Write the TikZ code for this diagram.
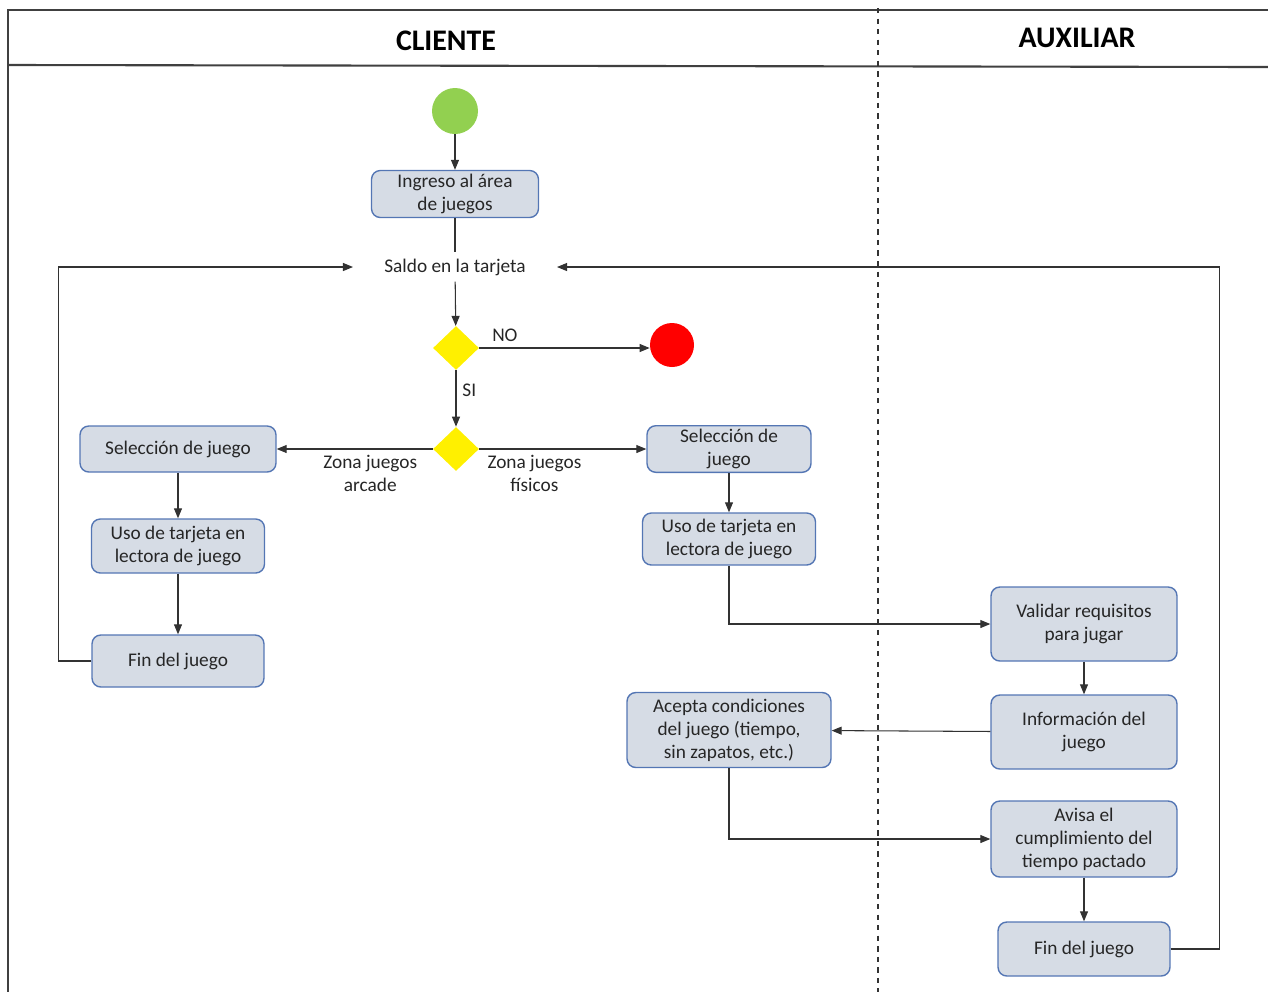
\documentclass[tikz,border=0pt]{standalone}
\usepackage{fontspec}
\setmainfont{Carlito}
\usepackage{tikz}
\usetikzlibrary{shapes.geometric, arrows.meta, positioning, calc}
\definecolor{boxfill}{RGB}{214,220,229}
\definecolor{boxline}{RGB}{84,118,180}
\definecolor{txtgray}{RGB}{38,38,38}
\definecolor{linegray}{RGB}{50,50,50}
\definecolor{startgreen}{RGB}{146,208,80}
\definecolor{stopred}{RGB}{255,0,0}
\definecolor{decyellow}{RGB}{255,240,0}

\begin{document}
\begin{tikzpicture}[
				x=0.02cm, y=-0.02cm,
				every node/.style={font=\fontsize{11}{13}\selectfont, text=txtgray},
				act/.style={rectangle, rounded corners=5pt, draw=boxline, fill=boxfill, thick,
					align=center, inner sep=2pt},
				dec/.style={diamond, fill=decyellow, minimum width=0.92cm, minimum height=0.88cm, inner sep=0pt},
				startnode/.style={circle, fill=startgreen, minimum size=0.92cm, inner sep=0pt},
				stopnode/.style={circle, fill=stopred, minimum size=0.88cm, inner sep=0pt},
				arrow/.style={-{Triangle[length=2mm, width=1.6mm]}, semithick, color=linegray},
				link/.style={semithick, color=linegray},
				lane/.style={line width=1.2pt, color=black!75},
				elabel/.style={align=center},
				header/.style={font=\fontsize{17}{19}\selectfont\bfseries, text=black}
				]
				\useasboundingbox (0,0) rectangle (1268,992);
				% lanes
				\draw[lane] (1268,10) -- (8,10) -- (8,992);
				\draw[lane] (8,65) -- (1268,67);
				\draw[semithick, dashed, black!80] (878,8) -- (878,992);
				\node[header] (cli) at (446,41) {CLIENTE};
				\node[header] (aux) at (1077,38) {AUXILIAR};

				\node[startnode] (start) at (455,111) {};
				\node[act, minimum width=3.34cm, minimum height=0.94cm] (ingreso) at (455,194) {Ingreso al área\\de juegos};
				\node[inner xsep=0.62cm, inner ysep=0.12cm] (saldo) at (455,267) {Saldo en la tarjeta};
				\node[dec] (d1) at (456,348) {};
				\node[stopnode] (stop) at (672,345) {};
				\node[dec] (d2) at (456,449) {};

				\node[act, minimum width=3.92cm, minimum height=0.92cm] (selA) at (178,449) {Selección de juego};
				\node[act, minimum width=3.46cm, minimum height=1.08cm] (usoA) at (178,546) {Uso de tarjeta en\\lectora de juego};
				\node[act, minimum width=3.44cm, minimum height=1.04cm] (finA) at (178,661) {Fin del juego};

				\node[act, minimum width=3.28cm, minimum height=0.92cm] (selF) at (729,449) {Selección de\\juego};
				\node[act, minimum width=3.46cm, minimum height=1.04cm] (usoF) at (729,539) {Uso de tarjeta en\\lectora de juego};
				\node[act, minimum width=4.08cm, minimum height=1.5cm] (acepta) at (729,730) {Acepta condiciones\\del juego (tiempo,\\sin zapatos, etc.)};

				\node[act, minimum width=3.72cm, minimum height=1.48cm] (valid) at (1084,624) {Validar requisitos\\para jugar};
				\node[act, minimum width=3.72cm, minimum height=1.48cm] (info) at (1084,732) {Información del\\juego};
				\node[act, minimum width=3.72cm, minimum height=1.52cm] (avisa) at (1084,839) {Avisa el\\cumplimiento del\\tiempo pactado};
				\node[act, minimum width=3.44cm, minimum height=1.08cm] (finB) at (1084,949) {Fin del juego};

				\draw[arrow] (start) -- (ingreso);
				\draw[link] (ingreso) -- (saldo);
				\draw[arrow] (saldo) -- (d1);
				\draw[arrow] (d1) -- node[above, pos=0.15] {NO} (d1 -| stop.west);
				\draw[arrow] (d1) -- node[right, pos=0.35] {SI} (d2);
				\draw[arrow] (d2) -- node[elabel, below, pos=0.4] {Zona juegos\\arcade} (selA);
				\draw[arrow] (d2) -- node[elabel, below, pos=0.33] {Zona juegos\\físicos} (selF);
				\draw[arrow] (selA) -- (usoA);
				\draw[arrow] (usoA) -- (finA);
				\draw[arrow] (finA.west) -- ++(-33,0) |- (saldo.west);
				\draw[arrow] (selF) -- (usoF);
				\draw[arrow] (usoF) |- (valid);
				\draw[arrow] (valid) -- (info);
				\draw[arrow] (info) -- (acepta);
				\draw[arrow] (acepta) |- (avisa);
				\draw[arrow] (avisa) -- (finB);
				\draw[arrow] (finB.east) -- ++(49,0) |- (saldo.east);
			\end{tikzpicture}
\end{document}
